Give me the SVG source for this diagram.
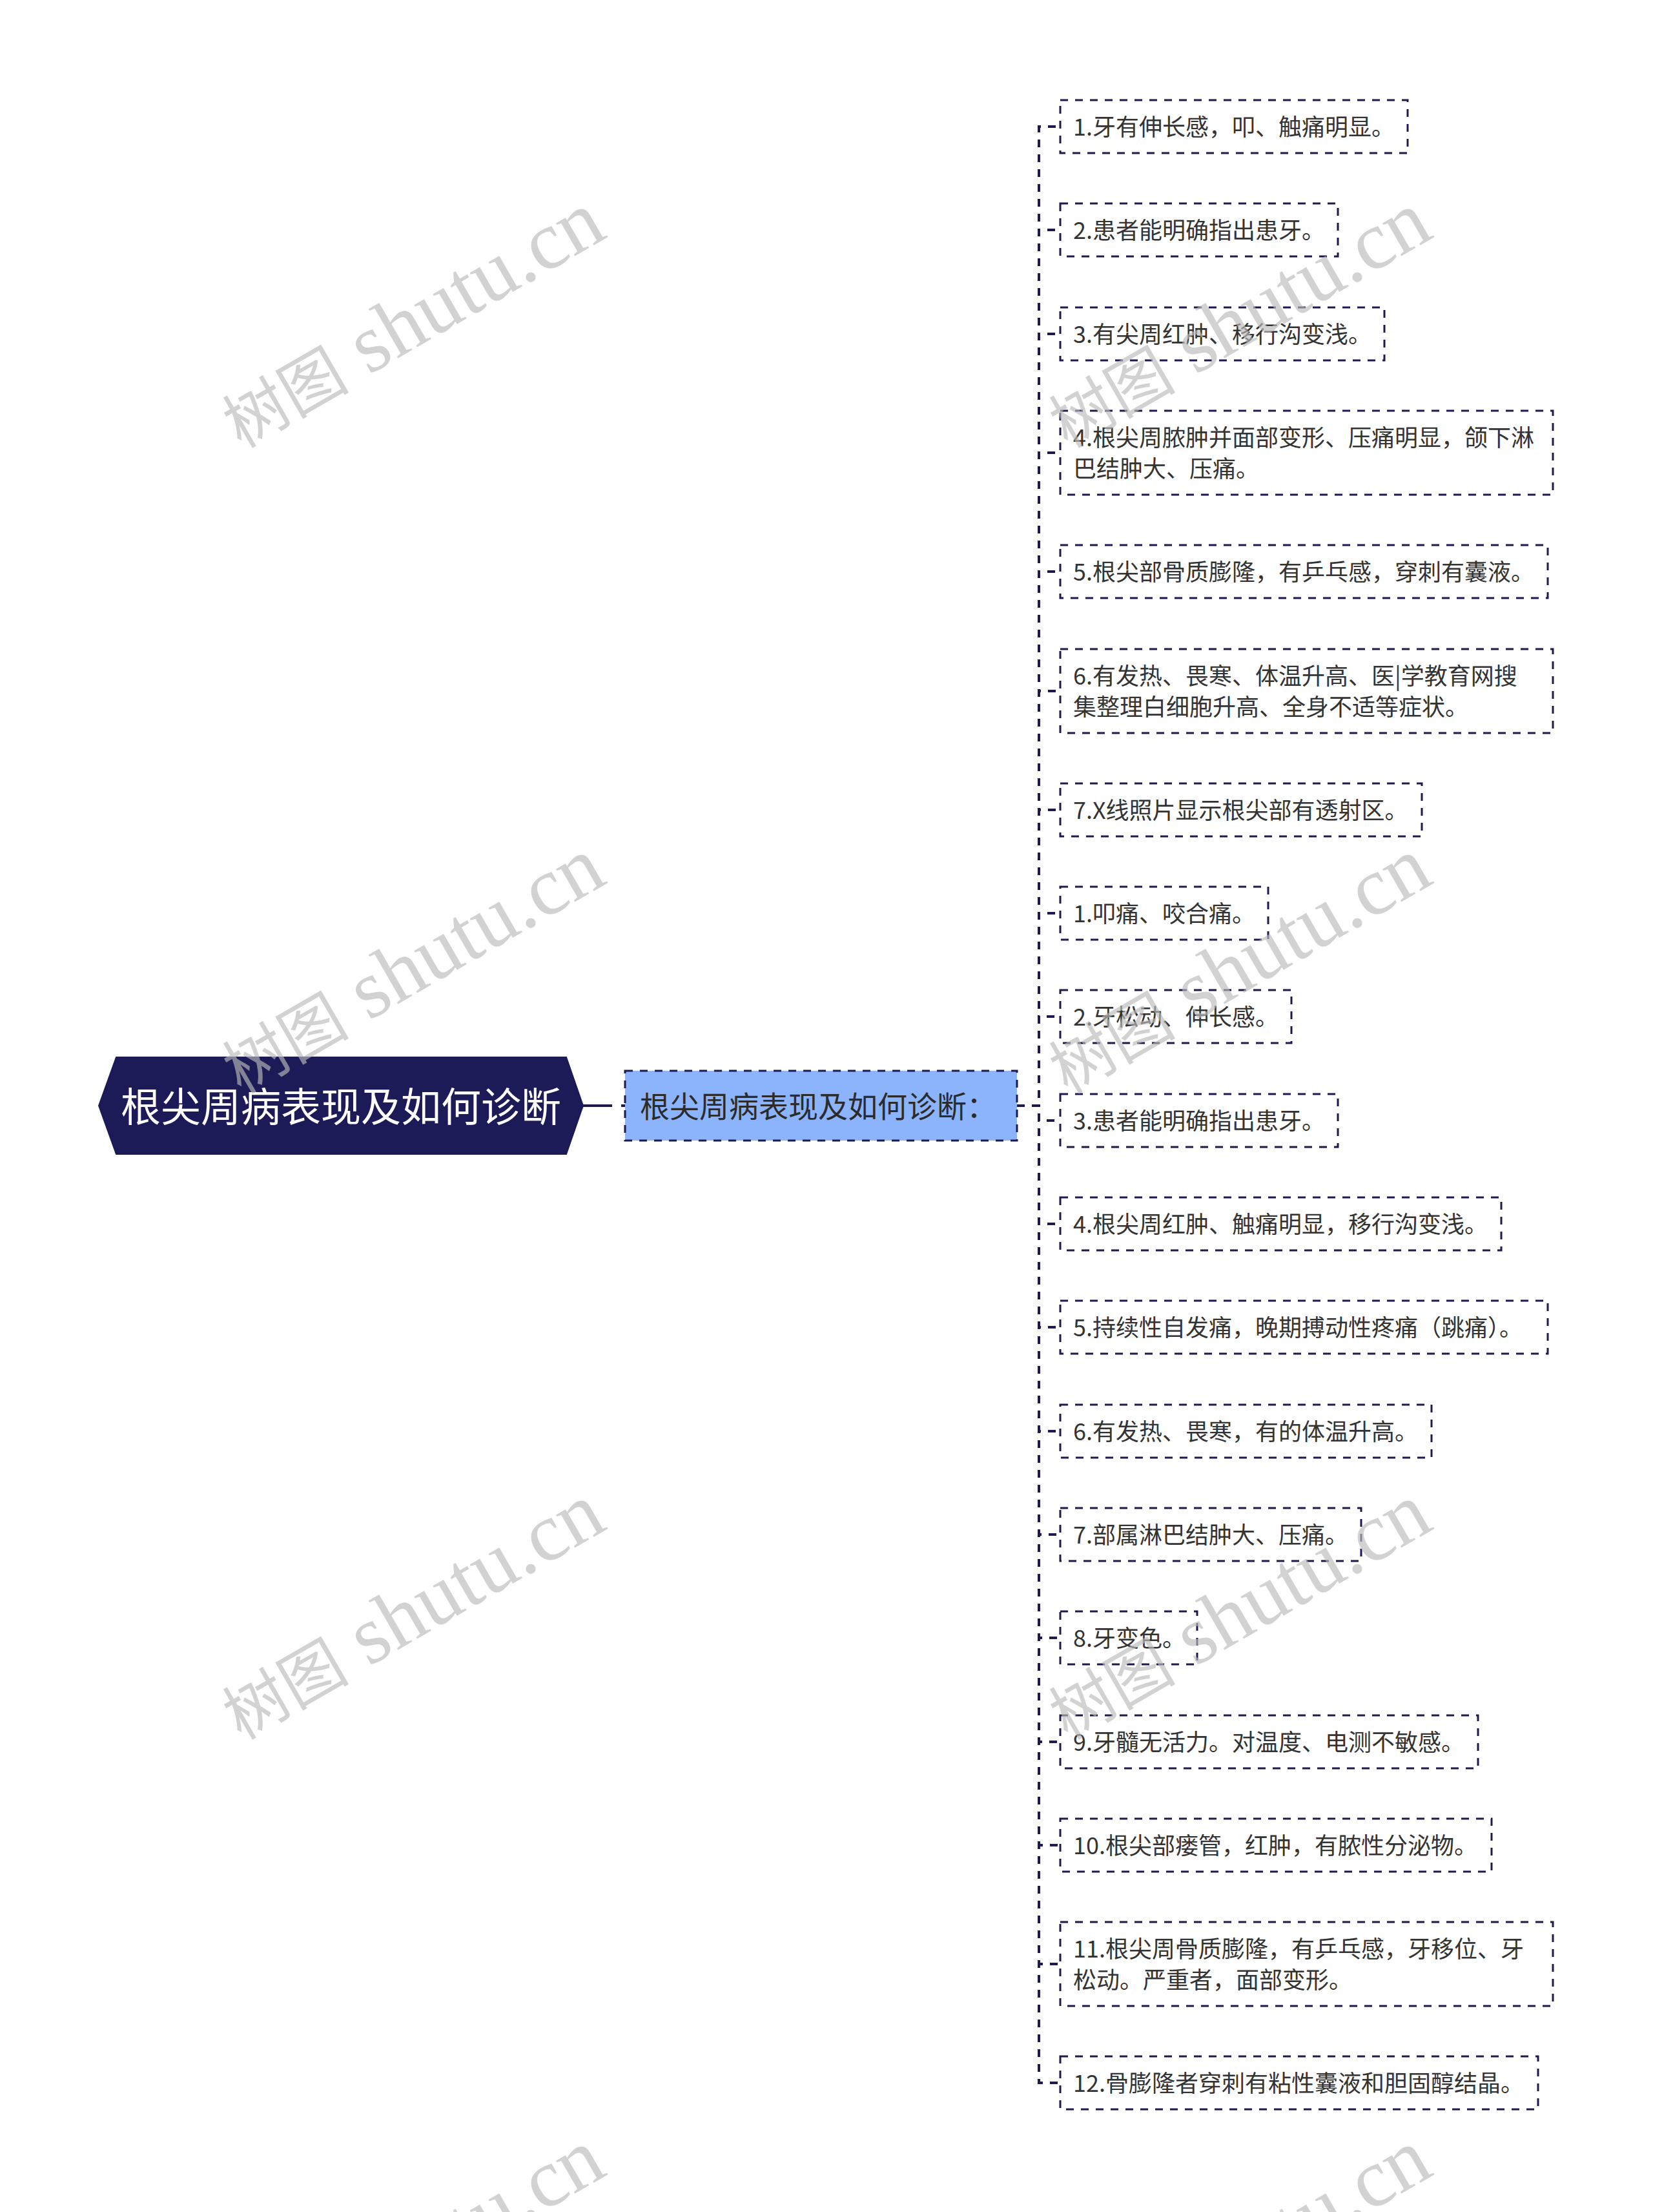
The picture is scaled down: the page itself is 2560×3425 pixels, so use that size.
<svg xmlns="http://www.w3.org/2000/svg" width="2560" height="3425" viewBox="0 0 2560 3425">
<style>
.bg{fill:#ffffff}
.root{fill:#1c1a57;stroke:#1c1a57;stroke-width:2}
.rootText{font-family:"Noto Sans CJK SC","Noto Sans",sans-serif;font-size:62px;fill:#ffffff}
.sub{fill:#8cb4fc;stroke:#1c1a4f;stroke-width:3;stroke-dasharray:12 11}
.subText{font-family:"Noto Sans CJK SC","Noto Sans",sans-serif;font-size:46px;fill:#2b2b2b}
.box{fill:none;stroke:#1c1a4f;stroke-width:3;stroke-dasharray:12 11}
.t{font-family:"Noto Sans CJK SC","Noto Sans",sans-serif;font-size:36px;fill:#333333}
.link{fill:none;stroke:#1c1a4f;stroke-width:4;stroke-dasharray:12 11}
.wm{font-family:"Liberation Serif","Noto Sans CJK SC",serif;fill:#bbbbbb;opacity:0.65}
</style>
<rect class="bg" x="0" y="0" width="2560" height="3425"/>

<g id="connectors">
<path d="M903 1712 H968" fill="none" stroke="#1c1a4f" stroke-width="4" stroke-dasharray="45 14 6 100"/>
<path class="link" d="M1575 1712 H1609 V196 H1642"/>
<path class="link" d="M1575 1712 H1609 V356 H1642"/>
<path class="link" d="M1575 1712 H1609 V517 H1642"/>
<path class="link" d="M1575 1712 H1609 V701 H1642"/>
<path class="link" d="M1575 1712 H1609 V885 H1642"/>
<path class="link" d="M1575 1712 H1609 V1070 H1642"/>
<path class="link" d="M1575 1712 H1609 V1254 H1642"/>
<path class="link" d="M1575 1712 H1609 V1414 H1642"/>
<path class="link" d="M1575 1712 H1609 V1574 H1642"/>
<path class="link" d="M1575 1712 H1609 V1735 H1642"/>
<path class="link" d="M1575 1712 H1609 V1895 H1642"/>
<path class="link" d="M1575 1712 H1609 V2055 H1642"/>
<path class="link" d="M1575 1712 H1609 V2216 H1642"/>
<path class="link" d="M1575 1712 H1609 V2376 H1642"/>
<path class="link" d="M1575 1712 H1609 V2536 H1642"/>
<path class="link" d="M1575 1712 H1609 V2697 H1642"/>
<path class="link" d="M1575 1712 H1609 V2857 H1642"/>
<path class="link" d="M1575 1712 H1609 V3041 H1642"/>
<path class="link" d="M1575 1712 H1609 V3225 H1642"/>
</g>

<g id="root">
<polygon class="root" points="153,1712 180,1637 877,1637 903,1712 877,1787 180,1787"/>
<text class="rootText" x="528" y="1737" text-anchor="middle">根尖周病表现及如何诊断</text>
</g>

<g id="sub">
<rect class="sub" x="968" y="1658" width="607" height="108"/>
<text class="subText" x="991" y="1730">根尖周病表现及如何诊断：</text>
</g>

<g id="c1"><rect class="box" x="1642" y="155" width="538" height="82"/><text class="t" x="1662" y="210">1.牙有伸长感，叩、触痛明显。</text></g>
<g id="c2"><rect class="box" x="1642" y="315" width="430" height="82"/><text class="t" x="1662" y="370">2.患者能明确指出患牙。</text></g>
<g id="c3"><rect class="box" x="1642" y="476" width="502" height="82"/><text class="t" x="1662" y="531">3.有尖周红肿、移行沟变浅。</text></g>
<g id="c4"><rect class="box" x="1642" y="636" width="763" height="130"/><text class="t" x="1662" y="691">4.根尖周脓肿并面部变形、压痛明显，颌下淋</text><text class="t" x="1662" y="739">巴结肿大、压痛。</text></g>
<g id="c5"><rect class="box" x="1642" y="844" width="755" height="82"/><text class="t" x="1662" y="899">5.根尖部骨质膨隆，有乒乓感，穿刺有囊液。</text></g>
<g id="c6"><rect class="box" x="1642" y="1005" width="763" height="130"/><text class="t" x="1662" y="1060">6.有发热、畏寒、体温升高、医|学教育网搜</text><text class="t" x="1662" y="1108">集整理白细胞升高、全身不适等症状。</text></g>
<g id="c7"><rect class="box" x="1642" y="1213" width="560" height="82"/><text class="t" x="1662" y="1268">7.X线照片显示根尖部有透射区。</text></g>
<g id="c8"><rect class="box" x="1642" y="1373" width="322" height="82"/><text class="t" x="1662" y="1428">1.叩痛、咬合痛。</text></g>
<g id="c9"><rect class="box" x="1642" y="1533" width="358" height="82"/><text class="t" x="1662" y="1588">2.牙松动、伸长感。</text></g>
<g id="c10"><rect class="box" x="1642" y="1694" width="430" height="82"/><text class="t" x="1662" y="1749">3.患者能明确指出患牙。</text></g>
<g id="c11"><rect class="box" x="1642" y="1854" width="683" height="82"/><text class="t" x="1662" y="1909">4.根尖周红肿、触痛明显，移行沟变浅。</text></g>
<g id="c12"><rect class="box" x="1642" y="2014" width="755" height="82"/><text class="t" x="1662" y="2069">5.持续性自发痛，晚期搏动性疼痛（跳痛）。</text></g>
<g id="c13"><rect class="box" x="1642" y="2175" width="575" height="82"/><text class="t" x="1662" y="2230">6.有发热、畏寒，有的体温升高。</text></g>
<g id="c14"><rect class="box" x="1642" y="2335" width="466" height="82"/><text class="t" x="1662" y="2390">7.部属淋巴结肿大、压痛。</text></g>
<g id="c15"><rect class="box" x="1642" y="2495" width="212" height="82"/><text class="t" x="1662" y="2550">8.牙变色。</text></g>
<g id="c16"><rect class="box" x="1642" y="2656" width="647" height="82"/><text class="t" x="1662" y="2711">9.牙髓无活力。对温度、电测不敏感。</text></g>
<g id="c17"><rect class="box" x="1642" y="2816" width="668" height="82"/><text class="t" x="1662" y="2871">10.根尖部瘘管，红肿，有脓性分泌物。</text></g>
<g id="c18"><rect class="box" x="1642" y="2976" width="763" height="130"/><text class="t" x="1662" y="3031">11.根尖周骨质膨隆，有乒乓感，牙移位、牙</text><text class="t" x="1662" y="3079">松动。严重者，面部变形。</text></g>
<g id="c19"><rect class="box" x="1642" y="3184" width="740" height="82"/><text class="t" x="1662" y="3239">12.骨膨隆者穿刺有粘性囊液和胆固醇结晶。</text></g>

<g id="watermarks">
<text class="wm" transform="translate(569,582) rotate(-30)" x="-226" y="0"><tspan font-size="98">树图</tspan><tspan font-size="128"> shutu.cn</tspan></text>
<text class="wm" transform="translate(569,1582) rotate(-30)" x="-226" y="0"><tspan font-size="98">树图</tspan><tspan font-size="128"> shutu.cn</tspan></text>
<text class="wm" transform="translate(569,2582) rotate(-30)" x="-226" y="0"><tspan font-size="98">树图</tspan><tspan font-size="128"> shutu.cn</tspan></text>
<text class="wm" transform="translate(569,3582) rotate(-30)" x="-226" y="0"><tspan font-size="98">树图</tspan><tspan font-size="128"> shutu.cn</tspan></text>
<text class="wm" transform="translate(1849,582) rotate(-30)" x="-226" y="0"><tspan font-size="98">树图</tspan><tspan font-size="128"> shutu.cn</tspan></text>
<text class="wm" transform="translate(1849,1582) rotate(-30)" x="-226" y="0"><tspan font-size="98">树图</tspan><tspan font-size="128"> shutu.cn</tspan></text>
<text class="wm" transform="translate(1849,2582) rotate(-30)" x="-226" y="0"><tspan font-size="98">树图</tspan><tspan font-size="128"> shutu.cn</tspan></text>
<text class="wm" transform="translate(1849,3582) rotate(-30)" x="-226" y="0"><tspan font-size="98">树图</tspan><tspan font-size="128"> shutu.cn</tspan></text>
</g>
</svg>
